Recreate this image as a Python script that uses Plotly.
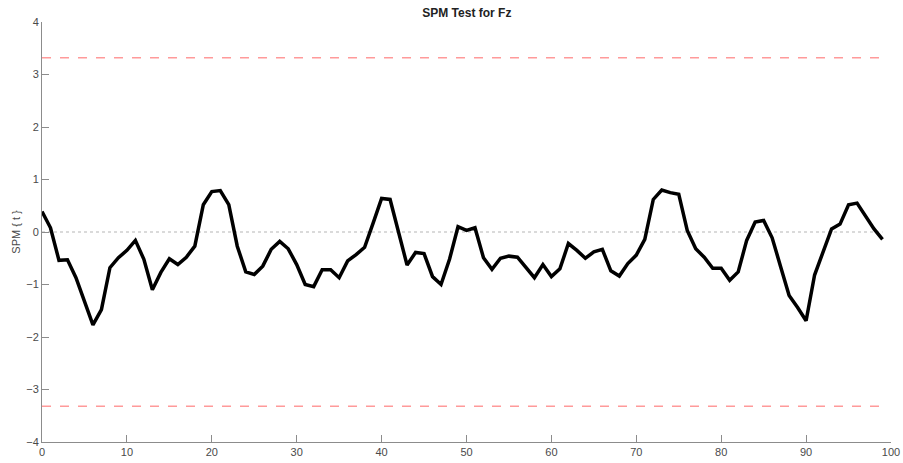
import plotly.graph_objects as go

# Time axis (0-99 % of cycle) and SPM{t} statistic
time_pct = list(range(100))
spm_t = [
    0.39, 0.08, -0.54, -0.53, -0.87, -1.32, -1.77, -1.48, -0.68, -0.49,
    -0.35, -0.16, -0.52, -1.10, -0.77, -0.51, -0.62, -0.48, -0.27, 0.52,
    0.77, 0.79, 0.52, -0.27, -0.76, -0.81, -0.65, -0.33, -0.18, -0.32,
    -0.62, -1.00, -1.04, -0.72, -0.72, -0.87, -0.55, -0.43, -0.29, 0.17,
    0.64, 0.62, -0.01, -0.63, -0.39, -0.41, -0.85, -1.00, -0.52, 0.10,
    0.03, 0.08, -0.49, -0.71, -0.50, -0.46, -0.48, -0.67, -0.87, -0.62,
    -0.85, -0.70, -0.22, -0.35, -0.50, -0.38, -0.33, -0.74, -0.84, -0.60,
    -0.44, -0.14, 0.62, 0.80, 0.75, 0.72, 0.03, -0.32, -0.48, -0.69,
    -0.69, -0.92, -0.76, -0.16, 0.19, 0.22, -0.11, -0.66, -1.21, -1.44,
    -1.69, -0.82, -0.38, 0.06, 0.15, 0.52, 0.55, 0.31, 0.06, -0.14,
]
t_critical = 3.32
x_ticks = [0, 10, 20, 30, 40, 50, 60, 70, 80, 90, 100]
y_ticks = [-4, -3, -2, -1, 0, 1, 2, 3, 4]

FONT = "Liberation Sans, Arial, sans-serif"

fig = go.Figure()

# zero reference (dotted)
fig.add_trace(go.Scatter(
    x=time_pct, y=[0] * len(time_pct), mode="lines",
    line=dict(color="#b5b5b5", width=1, dash="dot"), hoverinfo="skip"))

# critical thresholds (dashed red)
for thr in (t_critical, -t_critical):
    fig.add_trace(go.Scatter(
        x=time_pct, y=[thr] * len(time_pct), mode="lines",
        line=dict(color="#ff9a9a", width=1.5, dash="dash"), hoverinfo="skip"))

# SPM{t} trajectory
fig.add_trace(go.Scatter(
    x=time_pct, y=spm_t, mode="lines",
    line=dict(color="black", width=3.5)))

axis_common = dict(
    showgrid=False, zeroline=False, showline=True, linecolor="#8c8c8c",
    linewidth=1, ticks="inside", ticklen=7, tickcolor="#8c8c8c",
    tickfont=dict(family=FONT, size=11, color="#4a4a4a"),
    mirror=False, automargin=False,
)

fig.update_layout(
    width=903, height=463,
    margin=dict(l=42, r=12, t=22, b=21, autoexpand=False),
    paper_bgcolor="white", plot_bgcolor="white",
    showlegend=False,
    title=dict(
        text="<b>SPM Test for Fz</b>", x=0.517, xanchor="center",
        y=0.972, yanchor="middle", automargin=False,
        font=dict(family=FONT, size=12, color="#222222")),
    xaxis=dict(range=[0, 100], tickvals=x_ticks, **axis_common),
    yaxis=dict(range=[-4, 4], tickvals=y_ticks,
               title=dict(text="SPM { t }", standoff=3,
                          font=dict(family=FONT, size=11, color="#4a4a4a")),
               **axis_common),
)

fig.write_html("out.html")
